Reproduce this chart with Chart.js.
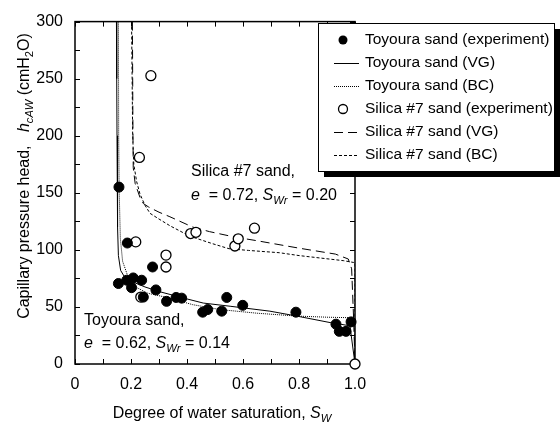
<!DOCTYPE html>
<html>
<head>
<meta charset="utf-8">
<script src="https://cdn.jsdelivr.net/npm/chart.js@4.4.1/dist/chart.umd.min.js"></script>
<style>
  body { margin: 0; background: #fff; }
  canvas { display: block; }
</style>
</head>
<body>
<canvas id="chart" width="560" height="429"></canvas>
<script>
// measured points, Toyoura sand
const toyouraExpS = [0.155, 0.157, 0.185, 0.187, 0.202, 0.208, 0.238, 0.244, 0.277, 0.289, 0.327, 0.361, 0.381, 0.456, 0.474, 0.524, 0.542, 0.599, 0.789, 0.932, 0.944, 0.968, 0.986];
const toyouraExpH = [70.5, 155, 73.4, 106, 66.9, 75.4, 73.4, 58.6, 85, 64.9, 54.9, 58.3, 57.7, 45.4, 47.7, 46.3, 58.3, 51.4, 45.4, 34.9, 28.6, 28.6, 36.9];

// measured points, Silica #7 sand
const silicaExpS = [0.217, 0.23, 0.235, 0.271, 0.325, 0.325, 0.413, 0.432, 0.571, 0.583, 0.641, 1.0];
const silicaExpH = [107, 181, 58.6, 252.6, 95.4, 85, 114.3, 115.4, 103.4, 109.7, 119, 0];

// fitted curves
const toyouraVgS = [0.148, 0.149, 0.150, 0.151, 0.153, 0.155, 0.163, 0.18, 0.20, 0.25, 0.30, 0.40, 0.458, 0.554, 0.696, 0.792, 0.911, 0.934, 0.982, 1.0];
const toyouraVgH = [300, 250, 200, 160, 120, 95, 82, 75, 72.5, 67.5, 63.5, 57, 53.4, 50.6, 46.3, 42, 36.3, 35.5, 33.4, 0];

const toyouraBcS = [0.155, 0.156, 0.158, 0.162, 0.17, 0.19, 0.22, 0.26, 0.339, 0.42, 0.518, 0.65, 0.792, 0.90, 0.994, 1.0, 1.0];
const toyouraBcH = [300, 200, 150, 110, 90, 76, 67, 62, 57.7, 52, 47.7, 44.5, 42, 41, 40.5, 40, 0];

const silicaVgS = [0.205, 0.206, 0.207, 0.208, 0.215, 0.232, 0.244, 0.262, 0.30, 0.339, 0.42, 0.48, 0.565, 0.65, 0.80, 0.93, 0.976, 0.988, 0.995, 1.0];
const silicaVgH = [300, 250, 200, 172, 158, 146, 140.6, 137.7, 133, 129, 120, 116, 111.5, 108, 101.5, 96.3, 92, 83.4, 40, 0];

const silicaBcS = [0.202, 0.204, 0.206, 0.21, 0.22, 0.232, 0.25, 0.268, 0.30, 0.34, 0.41, 0.49, 0.55, 0.62, 0.73, 0.80, 0.96, 0.994, 1.0, 1.0];
const silicaBcH = [300, 250, 200, 175, 160, 149, 139, 132, 127, 121, 112, 105.5, 101, 99.5, 97.5, 95, 90.5, 89, 89, 0];

const xTickLabels = ["0", "0.2", "0.4", "0.6", "0.8", "1.0"];
const yTickLabels = ["0", "50", "100", "150", "200", "250", "300"];

const FONT = "'Liberation Sans', Arial, Helvetica, sans-serif";

function pts(xs, ys) {
  return xs.map((x, i) => ({ x: x, y: ys[i] }));
}

// draw text made of parts: {t, it, sub}
function richWidth(ctx, parts, size) {
  let w = 0;
  parts.forEach(p => {
    const s = p.sub ? size * 0.7 : size;
    ctx.font = (p.it ? "italic " : "") + s + "px " + FONT;
    w += ctx.measureText(p.t).width;
  });
  return w;
}
function drawRich(ctx, parts, x, y, size) {
  ctx.textBaseline = "middle";
  ctx.textAlign = "left";
  parts.forEach(p => {
    const s = p.sub ? size * 0.7 : size;
    ctx.font = (p.it ? "italic " : "") + s + "px " + FONT;
    ctx.fillText(p.t, x, p.sub ? y + size * 0.3 : y);
    x += ctx.measureText(p.t).width;
  });
}

const legendItems = [
  { label: "Toyoura sand (experiment)", kind: "dot" },
  { label: "Toyoura sand (VG)", kind: "line", dash: [] },
  { label: "Toyoura sand (BC)", kind: "line", dash: [1, 1] },
  { label: "Silica #7 sand (experiment)", kind: "circle" },
  { label: "Silica #7 sand (VG)", kind: "line", dash: [9, 5] },
  { label: "Silica #7 sand (BC)", kind: "line", dash: [3, 2] }
];

const framePlugin = {
  id: "frame",
  beforeDatasetsDraw(chart) {
    const ctx = chart.ctx;
    const a = chart.chartArea;
    const xs = chart.scales.x, ys = chart.scales.y;
    ctx.save();
    ctx.strokeStyle = "#000";
    ctx.lineWidth = 1.5;
    ctx.strokeRect(a.left, a.top, a.right - a.left, a.bottom - a.top);
    ctx.lineWidth = 1;
    ctx.beginPath();
    xs.ticks.forEach(t => {
      const px = Math.round(xs.getPixelForValue(t.value)) + 0.5;
      ctx.moveTo(px, a.bottom); ctx.lineTo(px, a.bottom - 5);
      ctx.moveTo(px, a.top); ctx.lineTo(px, a.top + 5);
    });
    ys.ticks.forEach(t => {
      const py = Math.round(ys.getPixelForValue(t.value)) + 0.5;
      ctx.moveTo(a.left, py); ctx.lineTo(a.left + 5, py);
      ctx.moveTo(a.right, py); ctx.lineTo(a.right - 5, py);
    });
    ctx.stroke();
    ctx.restore();
  },
  afterDraw(chart) {
    const ctx = chart.ctx;
    ctx.save();
    ctx.fillStyle = "#000";

    // annotations
    drawRich(ctx, [{ t: "Silica #7 sand," }], 191, 172, 16);
    drawRich(ctx, [{ t: "e", it: true }, { t: "  = 0.72, " }, { t: "S", it: true }, { t: "Wr", it: true, sub: true }, { t: " = 0.20" }], 191, 196, 16);
    drawRich(ctx, [{ t: "Toyoura sand," }], 84, 321, 16);
    drawRich(ctx, [{ t: "e", it: true }, { t: "  = 0.62, " }, { t: "S", it: true }, { t: "Wr", it: true, sub: true }, { t: " = 0.14" }], 84, 344, 16);

    // axis titles
    const xt = [{ t: "Degree of water saturation, " }, { t: "S", it: true }, { t: "W", it: true, sub: true }];
    const xw = richWidth(ctx, xt, 16);
    drawRich(ctx, xt, 222 - xw / 2, 414, 16);

    const yt = [{ t: "Capillary pressure head,   " }, { t: "h", it: true }, { t: "cAW", it: true, sub: true }, { t: " (cmH" }, { t: "2", sub: true }, { t: "O)" }];
    const yw = richWidth(ctx, yt, 16);
    ctx.save();
    ctx.translate(25, 176);
    ctx.rotate(-Math.PI / 2);
    drawRich(ctx, yt, -yw / 2, 0, 16);
    ctx.restore();

    // legend box with shadow
    const lx = 318, ly = 23, lw = 236, lh = 148;
    ctx.fillStyle = "#000";
    ctx.fillRect(lx + 6, ly + 6, lw, lh);
    ctx.fillStyle = "#fff";
    ctx.fillRect(lx, ly, lw, lh);
    ctx.strokeStyle = "#000";
    ctx.lineWidth = 1;
    ctx.strokeRect(lx + 0.5, ly + 0.5, lw, lh);
    legendItems.forEach((it, i) => {
      const y = 40 + i * 23;
      ctx.strokeStyle = "#000";
      ctx.fillStyle = "#000";
      if (it.kind === "dot") {
        ctx.beginPath(); ctx.arc(343, y, 4.5, 0, Math.PI * 2); ctx.fill();
      } else if (it.kind === "circle") {
        ctx.lineWidth = 1.3;
        ctx.beginPath(); ctx.arc(343, y, 4.5, 0, Math.PI * 2); ctx.stroke();
      } else {
        ctx.lineWidth = 1;
        ctx.setLineDash(it.dash);
        ctx.beginPath(); ctx.moveTo(334, y + 0.5); ctx.lineTo(359, y + 0.5); ctx.stroke();
        ctx.setLineDash([]);
      }
      ctx.fillStyle = "#000";
      drawRich(ctx, [{ t: it.label }], 365, y, 15.5);
    });
    ctx.restore();
  }
};

new Chart(document.getElementById("chart"), {
  type: "scatter",
  data: {
    datasets: [
      { label: "Toyoura sand (experiment)", data: pts(toyouraExpS, toyouraExpH), pointRadius: 5, pointBackgroundColor: "#000", pointBorderColor: "#000", pointBorderWidth: 1, order: 1, clip: false },
      { label: "Silica #7 sand (experiment)", data: pts(silicaExpS, silicaExpH), pointRadius: 5, pointBackgroundColor: "#fff", pointBorderColor: "#000", pointBorderWidth: 1.3, order: 2, clip: false },
      { label: "Toyoura sand (VG)", data: pts(toyouraVgS, toyouraVgH), showLine: true, pointRadius: 0, borderColor: "#000", borderWidth: 1, order: 5 },
      { label: "Toyoura sand (BC)", data: pts(toyouraBcS, toyouraBcH), showLine: true, pointRadius: 0, borderColor: "#000", borderWidth: 1, borderDash: [1, 1], order: 5 },
      { label: "Silica #7 sand (VG)", data: pts(silicaVgS, silicaVgH), showLine: true, pointRadius: 0, borderColor: "#000", borderWidth: 1, borderDash: [9, 5], order: 5 },
      { label: "Silica #7 sand (BC)", data: pts(silicaBcS, silicaBcH), showLine: true, pointRadius: 0, borderColor: "#000", borderWidth: 1, borderDash: [3, 2], order: 5 }
    ]
  },
  options: {
    responsive: false,
    animation: false,
    layout: { padding: { top: 14, right: 205, left: 0, bottom: 0 } },
    plugins: { legend: { display: false }, tooltip: { enabled: false } },
    scales: {
      x: {
        type: "linear", min: 0, max: 1,
        grid: { display: false, drawTicks: false }, border: { display: false },
        ticks: {
          stepSize: 0.1, color: "#000", padding: 11,
          font: { size: 16, family: FONT },
          maxRotation: 0, autoSkip: false,
          callback: (v) => {
            const i = Math.round(v * 10);
            return i % 2 === 0 ? xTickLabels[i / 2] : "";
          }
        },
        afterFit: (s) => { s.height = 65; }
      },
      y: {
        type: "linear", min: 0, max: 300,
        grid: { display: false, drawTicks: false }, border: { display: false },
        ticks: {
          stepSize: 25, color: "#000", padding: 12,
          font: { size: 16, family: FONT },
          autoSkip: false,
          callback: (v) => (v % 50 === 0 ? yTickLabels[v / 50] : "")
        },
        afterFit: (s) => { s.width = 75; }
      }
    }
  },
  plugins: [framePlugin]
});
</script>
</body>
</html>
